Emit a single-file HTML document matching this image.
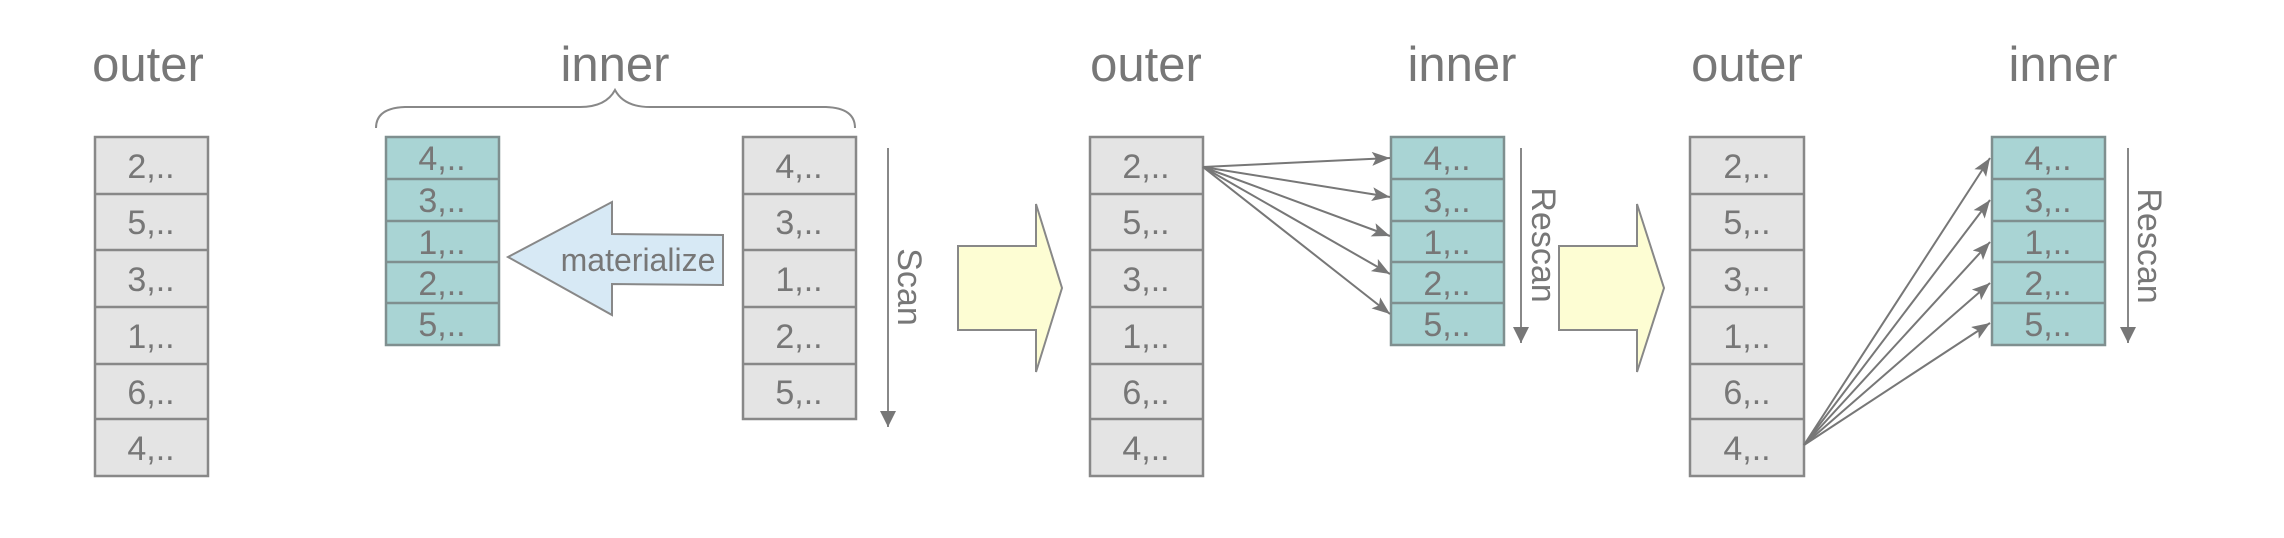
<!DOCTYPE html>
<html><head><meta charset="utf-8"><style>html,body{margin:0;padding:0;background:#fff}svg{display:block}</style></head>
<body>
<svg width="2284" height="538" viewBox="0 0 2284 538" xmlns="http://www.w3.org/2000/svg" font-family="Liberation Sans, sans-serif">
<defs>
<marker id="ah" markerWidth="20" markerHeight="16" refX="18" refY="7" orient="auto" markerUnits="userSpaceOnUse">
<path d="M0,0 L18,7 L0,14 L4,7 Z" fill="#777"/>
</marker>
<marker id="ah2" markerWidth="16" markerHeight="22" refX="16" refY="8" orient="auto" markerUnits="userSpaceOnUse">
<path d="M0,0 L16,8 L0,16 Z" fill="#777"/>
</marker>
</defs>
<g fill="#777" font-size="49" text-anchor="middle">
<text x="148" y="81">outer</text>
<text x="615" y="81">inner</text>
<text x="1146" y="81">outer</text>
<text x="1462" y="81">inner</text>
<text x="1747" y="81">outer</text>
<text x="2063" y="81">inner</text>
</g>
<!-- brace -->
<path d="M376,128 Q376,108 405,107 L580,107 Q606,107 615,90 Q624,107 650,107 L826,107 Q855,108 855,128" fill="none" stroke="#888" stroke-width="2"/>
<!-- gray columns (6 rows) -->
<g stroke="#888" stroke-width="2.5" fill="#e4e4e4">
<rect x="95" y="137" width="113" height="339"/>
<rect x="1090" y="137" width="113" height="339"/>
<rect x="1690" y="137" width="114" height="339"/>
<rect x="743" y="137" width="113" height="282"/>
</g>
<g stroke="#888" stroke-width="2.5">
<path d="M95,194H208M95,250H208M95,307H208M95,364H208M95,419H208"/>
<path d="M1090,194H1203M1090,250H1203M1090,307H1203M1090,364H1203M1090,419H1203"/>
<path d="M1690,194H1804M1690,250H1804M1690,307H1804M1690,364H1804M1690,419H1804"/>
<path d="M743,194H856M743,250H856M743,307H856M743,364H856"/>
</g>
<!-- teal columns -->
<g stroke="#7f8f8f" stroke-width="2.5" fill="#a9d4d4">
<rect x="386" y="137" width="113" height="208"/>
<rect x="1391" y="137" width="113" height="208"/>
<rect x="1992" y="137" width="113" height="208"/>
</g>
<g stroke="#7f8f8f" stroke-width="2.5">
<path d="M386,179H499M386,221H499M386,262H499M386,303H499"/>
<path d="M1391,179H1504M1391,221H1504M1391,262H1504M1391,303H1504"/>
<path d="M1992,179H2105M1992,221H2105M1992,262H2105M1992,303H2105"/>
</g>
<!-- cell text -->
<g fill="#777" font-size="34" text-anchor="middle">
<text x="151" y="178">2,..</text><text x="151" y="234">5,..</text><text x="151" y="291">3,..</text><text x="151" y="348">1,..</text><text x="151" y="404">6,..</text><text x="151" y="460">4,..</text>
<text x="1146" y="178">2,..</text><text x="1146" y="234">5,..</text><text x="1146" y="291">3,..</text><text x="1146" y="348">1,..</text><text x="1146" y="404">6,..</text><text x="1146" y="460">4,..</text>
<text x="1747" y="178">2,..</text><text x="1747" y="234">5,..</text><text x="1747" y="291">3,..</text><text x="1747" y="348">1,..</text><text x="1747" y="404">6,..</text><text x="1747" y="460">4,..</text>
<text x="799" y="178">4,..</text><text x="799" y="234">3,..</text><text x="799" y="291">1,..</text><text x="799" y="348">2,..</text><text x="799" y="404">5,..</text>
<text x="442" y="170">4,..</text><text x="442" y="212">3,..</text><text x="442" y="254">1,..</text><text x="442" y="295">2,..</text><text x="442" y="336">5,..</text>
<text x="1447" y="170">4,..</text><text x="1447" y="212">3,..</text><text x="1447" y="254">1,..</text><text x="1447" y="295">2,..</text><text x="1447" y="336">5,..</text>
<text x="2048" y="170">4,..</text><text x="2048" y="212">3,..</text><text x="2048" y="254">1,..</text><text x="2048" y="295">2,..</text><text x="2048" y="336">5,..</text>
</g>
<!-- materialize arrow -->
<path d="M508,257 L612,202 L612,234 L723,235 L723,285 L612,284 L612,315 Z" fill="#d7e9f5" stroke="#888" stroke-width="2"/>
<text x="638" y="271" font-size="32" fill="#777" text-anchor="middle">materialize</text>
<!-- yellow arrows -->
<path d="M958,246 L1036,246 L1036,204 L1062,288 L1036,372 L1036,330 L958,330 Z" fill="#fdfdd3" stroke="#888" stroke-width="2"/>
<path d="M1559,246 L1637,246 L1637,204 L1664,288 L1637,372 L1637,330 L1559,330 Z" fill="#fdfdd3" stroke="#888" stroke-width="2"/>
<!-- scan arrows -->
<g stroke="#888" stroke-width="2" fill="none">
<line x1="888" y1="148" x2="888" y2="427" marker-end="url(#ah2)"/>
<line x1="1521" y1="148" x2="1521" y2="343" marker-end="url(#ah2)"/>
<line x1="2128" y1="148" x2="2128" y2="343" marker-end="url(#ah2)"/>
</g>
<g fill="#777" font-size="34" text-anchor="middle">
<text transform="translate(898,287) rotate(90)">Scan</text>
<text transform="translate(1532,245) rotate(90)">Rescan</text>
<text transform="translate(2138,246) rotate(90)">Rescan</text>
</g>
<!-- fan arrows -->
<g stroke="#777" stroke-width="2" fill="none" marker-end="url(#ah)">
<line x1="1203" y1="167" x2="1390" y2="158"/>
<line x1="1203" y1="167" x2="1390" y2="197"/>
<line x1="1203" y1="167" x2="1390" y2="236"/>
<line x1="1203" y1="167" x2="1390" y2="274"/>
<line x1="1203" y1="167" x2="1390" y2="314"/>
<line x1="1804" y1="445" x2="1990" y2="158"/>
<line x1="1804" y1="445" x2="1990" y2="200"/>
<line x1="1804" y1="445" x2="1990" y2="242"/>
<line x1="1804" y1="445" x2="1990" y2="283"/>
<line x1="1804" y1="445" x2="1990" y2="323"/>
</g>
</svg>
</body></html>
